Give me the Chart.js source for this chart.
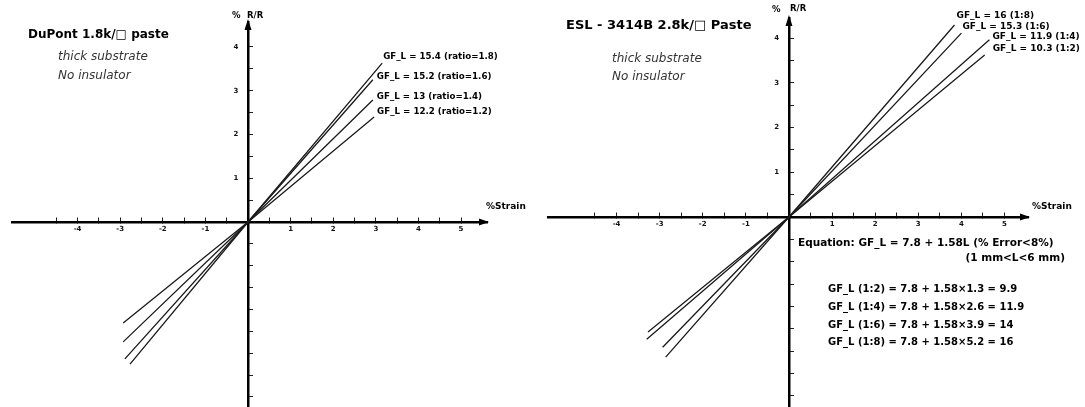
<!DOCTYPE html>
<html><head><meta charset="utf-8">
<script src="https://cdn.jsdelivr.net/npm/chart.js@4"></script>
<style>
html,body{margin:0;padding:0;background:#fff;overflow:hidden;width:1085px;height:407px;}
#l{position:absolute;left:0;top:0;}
#r{position:absolute;left:542px;top:0;}
</style></head><body>
<canvas id="l" width="542" height="437"></canvas>
<canvas id="r" width="543" height="437"></canvas>
<script>
// ---------- data ----------
const xLabelValues = [-4, -3, -2, -1, 1, 2, 3, 4, 5];
const yLabelValues = [1, 2, 3, 4];

// Left panel: DuPont 1.8k paste
const leftNames = ['GF_L = 15.4 (ratio=1.8)', 'GF_L = 15.2 (ratio=1.6)', 'GF_L = 13 (ratio=1.4)', 'GF_L = 12.2 (ratio=1.2)'];
const leftStrain = [[-2.77, 0, 3.15], [-2.89, 0, 2.93], [-2.93, 0, 2.93], [-2.93, 0, 2.96]];
const leftDR     = [[-3.25, 0, 3.63], [-3.13, 0, 3.25], [-2.74, 0, 2.79], [-2.31, 0, 2.40]];

// Right panel: ESL 3414B 2.8k paste
const rightNames = ['GF_L = 16 (1:8)', 'GF_L = 15.3 (1:6)', 'GF_L = 11.9 (1:4)', 'GF_L = 10.3 (1:2)'];
const rightStrain = [[-2.86, 0, 3.84], [-2.93, 0, 4.00], [-3.30, 0, 4.65], [-3.27, 0, 4.54]];
const rightDR     = [[-3.13, 0, 4.29], [-2.91, 0, 4.11], [-2.73, 0, 3.96], [-2.57, 0, 3.62]];

// ---------- helpers ----------
const FONT = "'DejaVu Sans', 'Liberation Sans', sans-serif";
function halfSteps(a, b) { const out = []; for (let k = Math.round(a * 2); k <= Math.round(b * 2); k++) out.push(k / 2); return out; }

function makeDatasets(names, xs, ys) {
  return names.map((n, i) => ({
    label: n,
    data: xs[i].map((x, j) => ({ x: x, y: ys[i][j] })),
    showLine: true, borderColor: '#1a1a1a', borderWidth: 1.3,
    pointRadius: 0, fill: false, tension: 0
  }));
}

function makeScales(xr, yr) {
  const tickFont = { family: FONT, size: 7, weight: 'bold', lineHeight: 1 };
  return {
    x: {
      type: 'linear', min: xr[0], max: xr[1], position: { y: 0 },
      afterBuildTicks: s => { s.ticks = halfSteps(-4.5, 5).map(v => ({ value: v })); },
      ticks: { autoSkip: false, maxRotation: 0, padding: 10, font: tickFont, color: '#111',
               callback: v => xLabelValues.includes(v) ? String(v) : '' },
      grid: { drawOnChartArea: false, drawTicks: true, tickLength: -6, tickWidth: 1, color: '#222' },
      border: { display: true, color: '#000', width: 2.5 }
    },
    y: {
      type: 'linear', min: yr[0], max: yr[1], position: { x: 0 },
      afterBuildTicks: s => { s.ticks = halfSteps(-4, 4).map(v => ({ value: v })); },
      ticks: { autoSkip: false, padding: 0, font: tickFont, color: '#111',
               // trailing spaces keep the right-aligned label clear of the axis line
               callback: v => yLabelValues.includes(v) ? String(v) + '    ' : '' },
      grid: { drawOnChartArea: false, drawTicks: true, tickLength: -6, tickWidth: 1, color: '#222' },
      border: { display: true, color: '#000', width: 2.5 }
    }
  };
}

function makeDeco(cfg) {
  return {
    id: 'deco',
    afterDraw(chart) {
      const ctx = chart.ctx, xs = chart.scales.x, ys = chart.scales.y, a = chart.chartArea;
      const x0 = xs.getPixelForValue(0), y0 = ys.getPixelForValue(0);
      ctx.save();
      ctx.fillStyle = '#000';
      ctx.beginPath(); ctx.moveTo(a.right + 2, y0); ctx.lineTo(a.right - 8, y0 - 3.5); ctx.lineTo(a.right - 8, y0 + 3.5); ctx.closePath(); ctx.fill();
      ctx.beginPath(); ctx.moveTo(x0, a.top - 3); ctx.lineTo(x0 - 3.5, a.top + 8); ctx.lineTo(x0 + 3.5, a.top + 8); ctx.closePath(); ctx.fill();
      ctx.textBaseline = 'middle';
      chart.data.datasets.forEach((ds, i) => {
        const p = ds.data[ds.data.length - 1];
        const px = xs.getPixelForValue(p.x), py = ys.getPixelForValue(p.y);
        ctx.font = cfg.labelFont; ctx.textAlign = 'left'; ctx.fillStyle = '#000';
        ctx.fillText(ds.label, px + cfg.offsets[i][0], py + cfg.offsets[i][1]);
      });
      cfg.texts.forEach(t => {
        ctx.font = t.font; ctx.textAlign = t.align || 'left'; ctx.fillStyle = t.color || '#000';
        ctx.fillText(t.text, t.x, t.y);
      });
      ctx.restore();
    }
  };
}

function makeChart(id, names, xs, ys, xr, yr, pad, deco) {
  return new Chart(document.getElementById(id), {
    type: 'scatter',
    data: { datasets: makeDatasets(names, xs, ys) },
    options: {
      responsive: false, animation: false, devicePixelRatio: 1,
      layout: { padding: pad },
      plugins: { legend: { display: false }, tooltip: { enabled: false } },
      scales: makeScales(xr, yr)
    },
    plugins: [makeDeco(deco)]
  });
}

const noteFont = "oblique 12px " + FONT;
const smallBold = "bold 8.5px " + FONT;
const axisFont = "bold 9px " + FONT;
const eqFont = "bold 10.5px " + FONT;
const gfFont = "bold 10px " + FONT;

makeChart('l', leftNames, leftStrain, leftDR, [-5.54, 5.61], [-4.229, 4.571],
  { left: 12, right: 55, top: 22, bottom: 30 },
  {
    labelFont: "bold 8.7px " + FONT,
    offsets: [[1, -6], [4, -3], [4, -3], [3, -5]],
    texts: [
      { text: 'DuPont 1.8k/\u25A1 paste', x: 28, y: 35, font: "bold 12px " + FONT },
      { text: 'thick substrate', x: 58, y: 57, font: noteFont, color: '#333' },
      { text: 'No insulator', x: 58, y: 76, font: noteFont, color: '#333' },
      { text: '%', x: 232, y: 16, font: smallBold },
      { text: 'R/R', x: 247, y: 16, font: smallBold },
      { text: '%Strain', x: 486, y: 207, font: axisFont }
    ]
  });

const R = 542;
makeChart('r', rightNames, rightStrain, rightDR, [-5.59, 5.545], [-4.246, 4.447],
  { left: 6, right: 57, top: 18, bottom: 30 },
  {
    labelFont: "bold 9px " + FONT,
    offsets: [[2, -9], [1, -6], [3, -3], [8, -6]],
    texts: [
      { text: 'ESL - 3414B 2.8k/\u25A1 Paste', x: 566 - R, y: 26, font: "bold 13px " + FONT },
      { text: 'thick substrate', x: 612 - R, y: 59, font: noteFont, color: '#333' },
      { text: 'No insulator', x: 612 - R, y: 77, font: noteFont, color: '#333' },
      { text: '%', x: 772 - R, y: 10, font: smallBold },
      { text: 'R/R', x: 790 - R, y: 9, font: smallBold },
      { text: '%Strain', x: 1032 - R, y: 207, font: axisFont },
      { text: 'Equation: GF_L = 7.8 + 1.58L (% Error<8%)', x: 798 - R, y: 243, font: eqFont },
      { text: '(1 mm<L<6 mm)', x: 1065 - R, y: 258, font: eqFont, align: 'right' },
      { text: 'GF_L (1:2) = 7.8 + 1.58\u00D71.3 = 9.9', x: 828 - R, y: 289, font: gfFont },
      { text: 'GF_L (1:4) = 7.8 + 1.58\u00D72.6 = 11.9', x: 828 - R, y: 307, font: gfFont },
      { text: 'GF_L (1:6) = 7.8 + 1.58\u00D73.9 = 14', x: 828 - R, y: 325, font: gfFont },
      { text: 'GF_L (1:8) = 7.8 + 1.58\u00D75.2 = 16', x: 828 - R, y: 342, font: gfFont }
    ]
  });
</script>
</body></html>
